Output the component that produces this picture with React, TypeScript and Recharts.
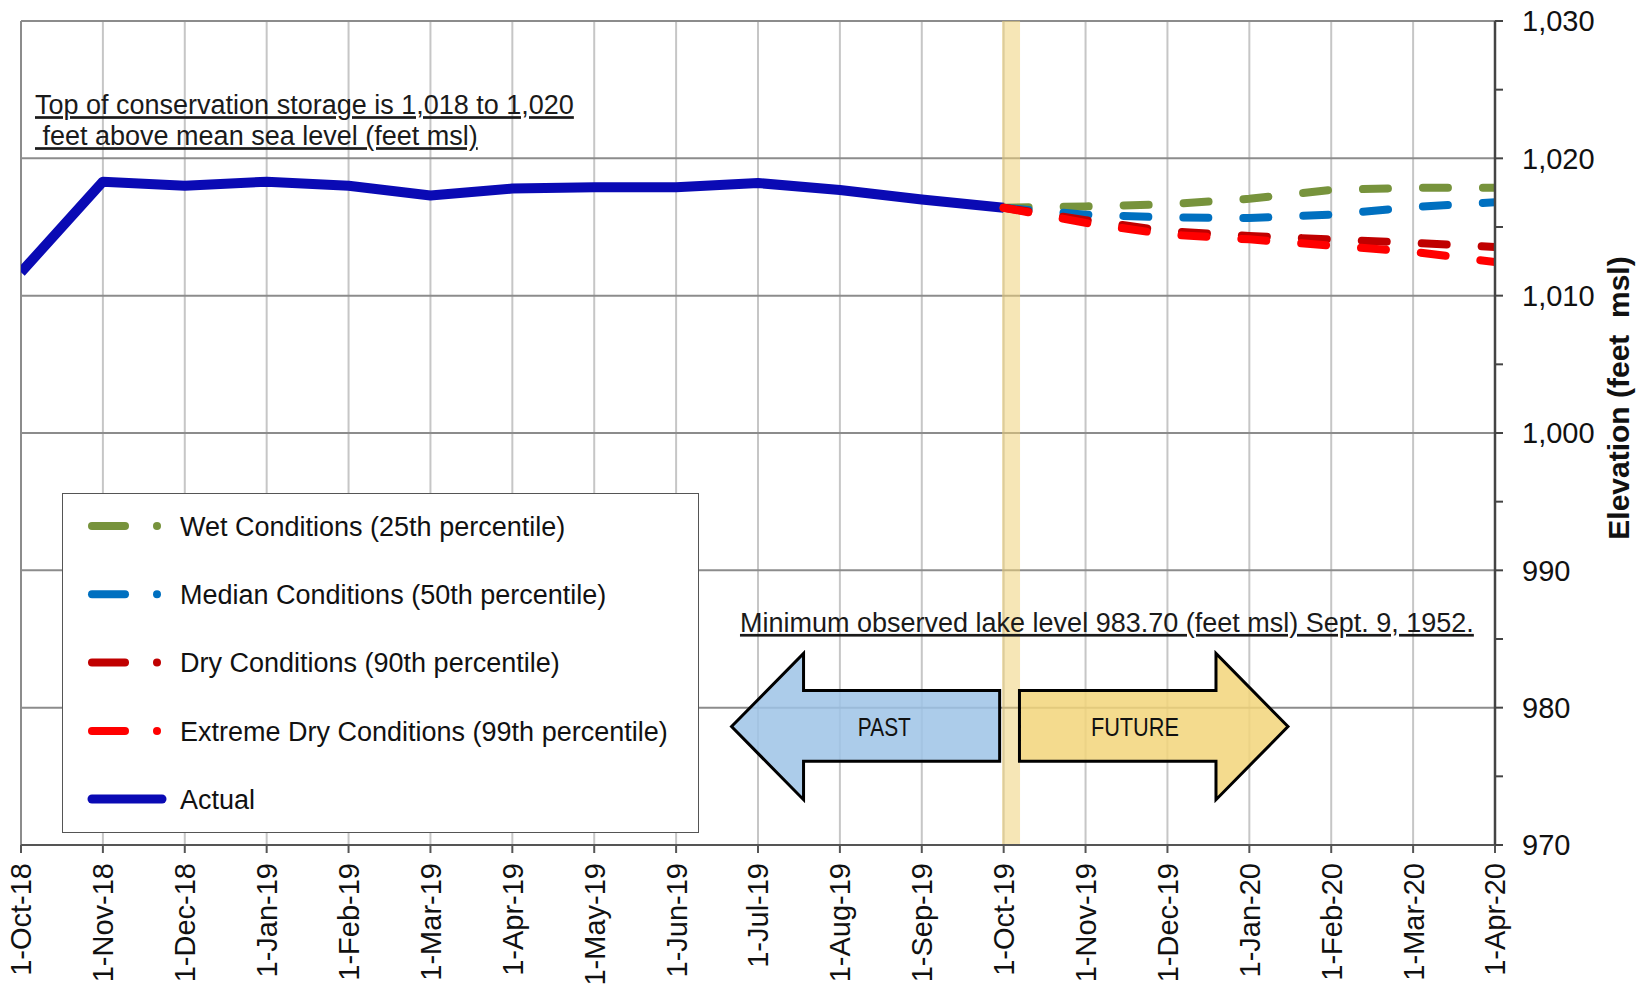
import React from 'react';
import {
  LineChart,
  Line,
  XAxis,
  YAxis,
  CartesianGrid,
  ReferenceArea,
  ReferenceLine,
  Legend,
} from 'recharts';

// month ticks, 1-Oct-18 .. 1-Apr-20
const monthLabels = [
  '1-Oct-18', '1-Nov-18', '1-Dec-18', '1-Jan-19', '1-Feb-19', '1-Mar-19', '1-Apr-19',
  '1-May-19', '1-Jun-19', '1-Jul-19', '1-Aug-19', '1-Sep-19', '1-Oct-19', '1-Nov-19',
  '1-Dec-19', '1-Jan-20', '1-Feb-20', '1-Mar-20', '1-Apr-20',
];

// observed lake elevation (feet msl), Oct-18 .. Oct-19
const actualLevels = [
  1011.7, 1018.3, 1018.0, 1018.3, 1018.0, 1017.3, 1017.8, 1017.9, 1017.9, 1018.2, 1017.7, 1017.0, 1016.4,
];

// projections start at 1-Oct-19
const forecastStart = 12;
const wetLevels = [1016.4, 1016.5, 1016.65, 1017.05, 1017.7, 1017.85, 1017.85];
const medianLevels = [1016.4, 1015.9, 1015.7, 1015.65, 1015.9, 1016.45, 1016.8];
const dryLevels = [1016.4, 1015.5, 1014.7, 1014.35, 1014.1, 1013.85, 1013.55];
const extremeLevels = [1016.4, 1015.3, 1014.45, 1014.1, 1013.65, 1013.2, 1012.45];

const elevationTicks = [970, 975, 980, 985, 990, 995, 1000, 1005, 1010, 1015, 1020, 1025, 1030];
const gridLevels = [970, 980, 990, 1000, 1010, 1020, 1030];

const conservationNote = ['Top of conservation storage is 1,018 to 1,020', ' feet above mean sea level (feet msl)'];
const minimumNote = 'Minimum observed lake level 983.70 (feet msl) Sept. 9, 1952.';

const forecastSeries = [
  { key: 'wet', name: 'Wet Conditions (25th percentile)', color: '#77933C', values: wetLevels },
  { key: 'median', name: 'Median Conditions (50th percentile)', color: '#0070C0', values: medianLevels },
  { key: 'dry', name: 'Dry Conditions (90th percentile)', color: '#C00000', values: dryLevels },
  { key: 'extreme', name: 'Extreme Dry Conditions (99th percentile)', color: '#FF0000', values: extremeLevels },
];

const actualColor = '#0A0AB4';
const font = '"Liberation Sans", Arial, sans-serif';

const chartData = monthLabels.map((label, i) => {
  const row: any = { x: i, label, actual: i < actualLevels.length ? actualLevels[i] : null };
  forecastSeries.forEach((s) => {
    row[s.key] = i >= forecastStart ? s.values[i - forecastStart] : null;
  });
  return row;
});

const MonthTick = (props: any) => {
  const { x, y, payload } = props;
  return (
    <text
      x={x}
      y={y}
      transform={`rotate(-90, ${x}, ${y})`}
      textAnchor="end"
      dy="0.36em"
      fontSize={29}
      fontFamily={font}
      fill="#111"
    >
      {monthLabels[payload.value]}
    </text>
  );
};

const ElevationLabel = (props: any) => {
  const { x, y, width, height } = props.viewBox;
  const cx = x + width + 23;
  const cy = y + height / 2 - 35;
  return (
    <text
      x={cx}
      y={cy}
      transform={`rotate(-90, ${cx}, ${cy})`}
      textAnchor="middle"
      dy="0.36em"
      fontSize={30}
      fontWeight="bold"
      fontFamily={font}
      fill="#111"
      style={{ whiteSpace: 'pre' }}
    >
      Elevation (feet  msl)
    </text>
  );
};

const Arrow = (props: any) => {
  const { x, y, width: w, height: h, dir, fill, text, textLen } = props;
  const hl = 72;
  const st = y + h * 0.253;
  const sb = y + h * 0.738;
  const pts =
    dir === 'left'
      ? [[x, y + h / 2], [x + hl, y], [x + hl, st], [x + w, st], [x + w, sb], [x + hl, sb], [x + hl, y + h]]
      : [[x + w, y + h / 2], [x + w - hl, y], [x + w - hl, st], [x, st], [x, sb], [x + w - hl, sb], [x + w - hl, y + h]];
  const tx = dir === 'left' ? x + w * 0.57 : x + w * 0.43;
  return (
    <g>
      <polygon
        points={pts.map((p) => p.join(',')).join(' ')}
        fill={fill}
        fillOpacity={0.85}
        stroke="#000"
        strokeWidth={3}
        strokeLinejoin="miter"
      />
      <text
        x={tx}
        y={y + h / 2}
        dy="0.36em"
        textAnchor="middle"
        fontSize={25}
        fontFamily='"Liberation Sans Narrow", "Arial Narrow", "Liberation Sans", sans-serif'
        textLength={textLen}
        lengthAdjust="spacingAndGlyphs"
        fill="#111"
      >
        {text}
      </text>
    </g>
  );
};

const NoteText = (props: any) => {
  const { x, y, lines } = props;
  return (
    <g>
      {lines.map((line: string, i: number) => (
        <text
          key={i}
          x={x}
          y={y + 19 + i * 31}
          fontSize={27}
          fontFamily={font}
          fill="#1a1a1a"
          style={{ whiteSpace: 'pre', textDecoration: 'underline' }}
        >
          {line}
        </text>
      ))}
    </g>
  );
};

const LegendBox = () => (
  <div
    style={{
      width: 637,
      height: 340,
      background: '#fff',
      border: '1.5px solid #555',
      boxSizing: 'border-box',
    }}
  >
    <svg width={634} height={337} style={{ display: 'block' }}>
      {forecastSeries.map((s, i) => {
        const cy = 32 + i * 68.3;
        return (
          <g key={s.key}>
            <line x1={29} x2={62} y1={cy} y2={cy} stroke={s.color} strokeWidth={8} strokeLinecap="round" />
            <circle cx={94} cy={cy} r={4} fill={s.color} />
            <text x={117} y={cy} dy="0.36em" fontSize={27} fontFamily={font} fill="#111">
              {s.name}
            </text>
          </g>
        );
      })}
      <line x1={29} x2={99} y1={305} y2={305} stroke={actualColor} strokeWidth={9} strokeLinecap="round" />
      <text x={117} y={305} dy="0.36em" fontSize={27} fontFamily={font} fill="#111">
        Actual
      </text>
    </svg>
  </div>
);

const App: React.FC = () => {
  return (
    <div style={{ position: 'absolute', left: 0, top: 0, width: 1642, height: 986, background: '#fff', fontFamily: font }}>
      <LineChart
        width={1642}
        height={986}
        data={chartData}
        margin={{ top: 21, right: 47, bottom: 11, left: 21 }}
      >
        <CartesianGrid horizontal={false} stroke="#c6c6c6" strokeWidth={2} />
        <CartesianGrid vertical={false} horizontalValues={gridLevels} stroke="#8c8c8c" strokeWidth={2} />
        <ReferenceLine x={0} stroke="#8c8c8c" strokeWidth={2} />

        <Line
          type="linear"
          dataKey="actual"
          stroke={actualColor}
          strokeWidth={10}
          strokeLinejoin="round"
          dot={false}
          activeDot={false}
          isAnimationActive={false}
        />
        {forecastSeries.map((s) => (
          <Line
            key={s.key}
            type="linear"
            dataKey={s.key}
            stroke={s.color}
            strokeWidth={8}
            strokeDasharray="25 35"
            strokeLinecap="round"
            dot={false}
            activeDot={false}
            isAnimationActive={false}
          />
        ))}

        <ReferenceArea x1={11.98} x2={12.2} y1={970} y2={1030} fill="#EFD27A" fillOpacity={0.55} stroke="none" />

        <ReferenceArea
          x1={8.677}
          x2={11.951}
          y1={983.95}
          y2={973.3}
          shape={(p: any) => <Arrow {...p} dir="left" fill="#9DC3E6" text="PAST" textLen={53} />}
        />
        <ReferenceArea
          x1={12.193}
          x2={15.472}
          y1={983.95}
          y2={973.3}
          shape={(p: any) => <Arrow {...p} dir="right" fill="#F2D57A" text="FUTURE" textLen={88} />}
        />

        <ReferenceArea
          x1={0.171}
          x2={6.822}
          y1={1024.6}
          y2={1020.5}
          shape={(p: any) => <NoteText {...p} lines={conservationNote} />}
        />
        <ReferenceArea
          x1={8.78}
          x2={17.75}
          y1={986.9}
          y2={985.0}
          shape={(p: any) => <NoteText {...p} lines={[minimumNote]} />}
        />

        <XAxis
          type="number"
          dataKey="x"
          domain={[0, 18]}
          ticks={monthLabels.map((_, i) => i)}
          interval={0}
          allowDataOverflow
          height={130}
          tickSize={8}
          tickMargin={10}
          tick={<MonthTick />}
          axisLine={{ stroke: '#555', strokeWidth: 2 }}
          tickLine={{ stroke: '#555', strokeWidth: 2 }}
        />
        <YAxis
          orientation="right"
          type="number"
          domain={[970, 1030]}
          ticks={elevationTicks}
          interval={0}
          allowDataOverflow
          width={100}
          tickSize={8}
          tickMargin={19}
          tickFormatter={(v: number) => (v % 10 === 0 ? v.toLocaleString('en-US') : '')}
          tick={{ fontSize: 29, fill: '#111', fontFamily: font }}
          axisLine={{ stroke: '#444', strokeWidth: 2.5 }}
          tickLine={{ stroke: '#444', strokeWidth: 2 }}
          label={{ content: (p: any) => <ElevationLabel {...p} /> }}
        />

        <Legend
          layout="vertical"
          align="center"
          verticalAlign="middle"
          wrapperStyle={{ left: 62, top: 493, width: 637, height: 340 }}
          content={() => <LegendBox />}
        />
      </LineChart>
    </div>
  );
};

export default App;
